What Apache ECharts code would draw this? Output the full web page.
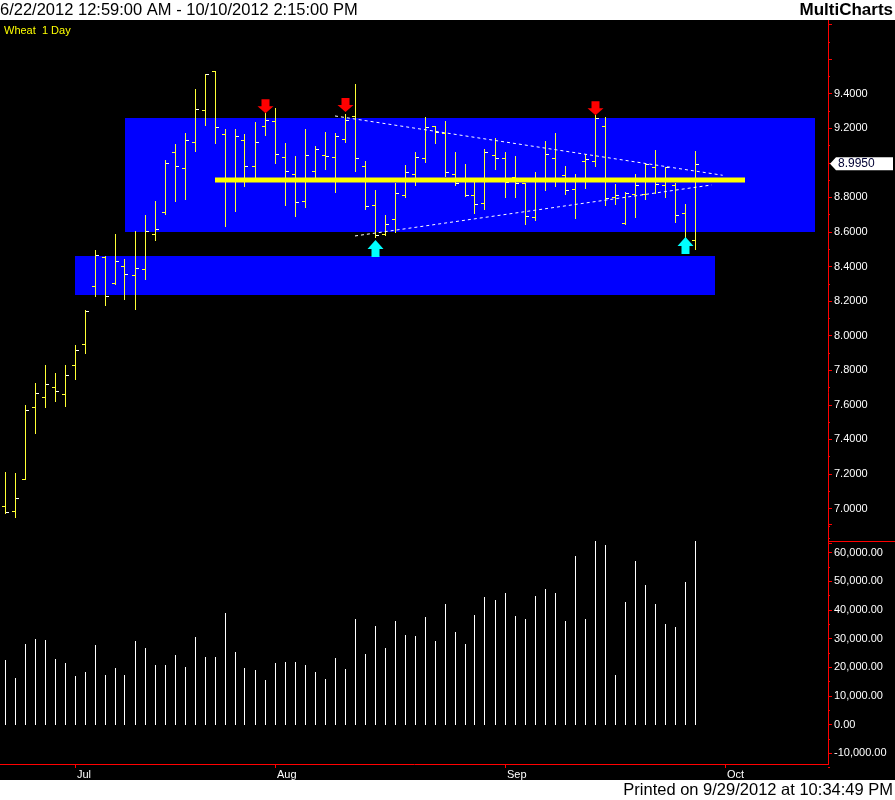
<!DOCTYPE html>
<html><head><meta charset="utf-8">
<script src="https://cdn.jsdelivr.net/npm/echarts@6/dist/echarts.min.js"></script>
<style>html,body{margin:0;padding:0;background:#000;}#c{width:895px;height:800px;}</style>
</head><body><div id="c"></div>
<script>
// ---- data ----
const opens  = [7.014,6.985,7.17,7.586,7.644,7.702,7.661,7.829,7.951,8.286,8.454,8.303,8.402,8.35,8.384,8.587,8.714,9.061,8.969,9.119,9.304,9.53,9.165,8.9,9.13,8.98,9.211,9.24,9.032,8.934,8.778,8.951,9.044,9.032,9.136,9.269,8.98,8.755,8.587,8.674,8.812,8.934,9.026,9.211,9.171,8.934,8.9,8.812,8.766,9.044,9.026,8.916,8.882,8.685,8.9,9.026,8.93,8.847,9.009,9.009,9.211,8.801,8.65,8.818,8.818,8.974,8.874,8.874,8.708,8.552];
const highs  = [7.21,7.204,7.598,7.725,7.829,7.783,7.829,7.945,8.147,8.496,8.461,8.589,8.442,8.606,8.698,8.779,9.017,9.109,9.173,9.427,9.514,9.53,9.196,9.196,9.167,9.236,9.29,9.317,9.115,9.04,9.196,9.098,9.178,9.173,9.28,9.456,9.011,8.843,8.698,8.882,8.988,9.063,9.267,9.213,9.242,9.063,8.993,8.888,9.08,9.144,9.063,9.04,8.882,8.945,9.126,9.173,8.98,8.936,9.05,9.275,9.263,8.876,8.83,8.934,8.992,9.074,8.974,8.882,8.76,9.069];
const lows   = [6.973,6.954,7.17,7.439,7.59,7.624,7.596,7.752,7.902,8.232,8.18,8.298,8.214,8.157,8.33,8.554,8.704,8.781,8.793,9.07,9.221,9.117,8.637,8.723,8.868,8.92,9.163,9.001,8.758,8.694,8.746,8.911,8.966,8.833,9.122,8.955,8.735,8.573,8.583,8.602,8.804,8.874,9.007,9.113,8.926,8.87,8.807,8.712,8.735,8.966,8.804,8.804,8.648,8.671,8.845,8.868,8.822,8.683,8.856,8.984,8.758,8.764,8.648,8.689,8.793,8.824,8.804,8.66,8.525,8.504];
const closes = [6.979,7.06,7.569,7.667,7.719,7.679,7.771,7.916,8.141,8.465,8.228,8.431,8.355,8.39,8.606,8.616,8.997,8.98,9.13,9.31,9.512,9.206,8.9,9.154,8.98,9.119,9.246,9.05,8.951,8.772,9.044,9.078,9.038,9.154,9.25,9.026,8.749,8.583,8.645,8.824,8.945,9.032,9.206,9.177,8.945,8.882,8.812,8.76,9.061,9.026,8.888,8.882,8.691,8.911,9.05,8.9,8.841,8.905,9.02,9.258,8.795,8.812,8.824,8.87,8.992,8.88,8.974,8.697,8.53,8.995];
const volumes = [22640,16370,28210,29950,29600,22990,21590,17070,18460,27860,17410,19850,17410,29260,26820,20900,20900,24380,20200,30650,23680,23680,39010,25430,19850,19160,15670,21590,21940,21940,20900,18460,16020,23340,19500,36920,24730,34480,26820,36220,
                 31350,31000,37620,29260,42140,32390,28210,38310,44580,43540,45980,37960,36920,44930,47370,45980,36220,58860,36920,64000,62690,17410,42840,57120,48760,42140,35180,34130,49810,64000];
const slotCount = 83;                       // bar slots on the time axis (incl. empty future slots)
const monthIdx = [7, 27, 50, 72];
const monthLabels = ['Jul', 'Aug', 'Sep', 'Oct'];
// zones: [fromSlot, toSlot, topPrice, bottomPrice]
const zones = [[12, 81, 9.259, 8.600], [7, 71, 8.461, 8.236]];
// horizontal support line: [fromSlot, toSlot, price]
const supportLine = [[21, 74, 8.90]];
// trend lines: [fromSlot, fromPrice, toSlot, toPrice]
const trendLines = [[33, 9.271, 71.77, 8.928], [35, 8.577, 70.67, 8.872]];
// arrows: [slot, tipPrice]
const downArrows = [[26, 9.287], [34, 9.294], [59, 9.275]];
const upArrows = [[37, 8.554], [68, 8.571]];
const headerLeft = '6/22/2012 12:59:00 AM - 10/10/2012 2:15:00 PM';
const headerRight = 'MultiCharts';
const footerText = 'Printed on 9/29/2012 at 10:34:49 PM';
const symbolText = 'Wheat  1 Day';

// ---- build ----
const categories = [];
for (let i = 0; i < slotCount; i++) categories.push(String(i));
const ohlcData = opens.map((o, i) => [i, o, highs[i], lows[i], closes[i]]);
const volData = volumes.map((v, i) => [i, v]);

const FONT = '"Liberation Sans", Arial, sans-serif';
const RED = '#ff0000';
const BAR = '#ffff33';

function crisp(v) { return Math.round(v) + 0.5; }

function renderOHLC(params, api) {
  const i = api.value(0);
  const pO = api.coord([i, api.value(1)]);
  const pH = api.coord([i, api.value(2)]);
  const pL = api.coord([i, api.value(3)]);
  const pC = api.coord([i, api.value(4)]);
  const x = crisp(pH[0] - 0.5);
  const yO = crisp(pO[1]), yC = crisp(pC[1]);
  return { type: 'group', children: [
    { type: 'line', shape: { x1: x, y1: Math.round(pH[1]), x2: x, y2: Math.round(pL[1]) + 1 }, style: { stroke: BAR, lineWidth: 1 } },
    { type: 'line', shape: { x1: x - 3.5, y1: yO, x2: x - 0.5, y2: yO }, style: { stroke: BAR, lineWidth: 1 } },
    { type: 'line', shape: { x1: x + 0.5, y1: yC, x2: x + 3.5, y2: yC }, style: { stroke: '#ffffff', lineWidth: 1 } }
  ]};
}
function renderVol(params, api) {
  const i = api.value(0);
  const p0 = api.coord([i, 0]);
  const p1 = api.coord([i, api.value(1)]);
  const x = crisp(p0[0] - 0.5);
  return { type: 'line', shape: { x1: x, y1: Math.round(p0[1]), x2: x, y2: Math.round(p1[1]) }, style: { stroke: '#ffffff', lineWidth: 1 } };
}
function renderZone(params, api) {
  const a = api.coord([api.value(0), api.value(2)]);
  const b = api.coord([api.value(1), api.value(3)]);
  return { type: 'rect', shape: { x: a[0], y: a[1], width: b[0] - a[0], height: b[1] - a[1] }, style: { fill: '#0000ff' } };
}
function renderSupport(params, api) {
  const a = api.coord([api.value(0), api.value(2)]);
  const b = api.coord([api.value(1), api.value(2)]);
  return { type: 'rect', shape: { x: a[0], y: a[1] - 2.5, width: b[0] - a[0], height: 5 }, style: { fill: '#ffff00' } };
}
function fracCoord(api, xv, yv) {
  const f = Math.floor(xv);
  const p = api.coord([f, yv]);
  const bw = api.size([1, 0])[0];
  return [p[0] + (xv - f) * bw, p[1]];
}
function renderTrend(params, api) {
  const a = fracCoord(api, api.value(0), api.value(1));
  const b = fracCoord(api, api.value(2), api.value(3));
  return { type: 'line', shape: { x1: a[0], y1: a[1], x2: b[0], y2: b[1] }, style: { stroke: '#ffffff', lineWidth: 1, lineDash: [3, 3] } };
}
function renderDown(params, api) {
  const t = api.coord([api.value(0), api.value(1)]);
  const cx = Math.round(t[0]) + 0.5, ty = t[1];
  return { type: 'polygon', shape: { points: [[cx - 4, ty - 14], [cx + 4, ty - 14], [cx + 4, ty - 7], [cx + 8, ty - 7], [cx, ty], [cx - 8, ty - 7], [cx - 4, ty - 7]] }, style: { fill: '#ff0000' } };
}
function renderUp(params, api) {
  const t = api.coord([api.value(0), api.value(1)]);
  const cx = Math.round(t[0]) + 0.5, ty = t[1];
  return { type: 'polygon', shape: { points: [[cx, ty], [cx + 8, ty + 9], [cx + 4, ty + 9], [cx + 4, ty + 17], [cx - 4, ty + 17], [cx - 4, ty + 9], [cx - 8, ty + 9]] }, style: { fill: '#00ffff' } };
}
function fmtVol(v) {
  if (v < -10000.5 || v > 60000.5) return '';
  const s = Math.abs(v).toFixed(2).split('.');
  return (v < 0 ? '-' : '') + s[0].replace(/\B(?=(\d{3})+(?!\d))/g, ',') + '.' + s[1];
}
function fmtPrice(v) {
  if (v < 6.95 || v > 9.45) return '';
  return v.toFixed(4);
}

const chart = echarts.init(document.getElementById('c'), null, { renderer: 'canvas' });
const baseGraphics = [
  { type: 'line', z: 50, shape: { x1: 828.5, y1: 20, x2: 828.5, y2: 764.5 }, style: { stroke: RED, lineWidth: 1 } },
  { type: 'line', z: 50, shape: { x1: 828, y1: 541.5, x2: 895, y2: 541.5 }, style: { stroke: RED, lineWidth: 1 } },
  { type: 'line', z: 50, shape: { x1: 0, y1: 764.5, x2: 829, y2: 764.5 }, style: { stroke: RED, lineWidth: 1 } },
  { type: 'rect', z: 100, shape: { x: 0, y: 0, width: 895, height: 20 }, style: { fill: '#ffffff' } },
  { type: 'rect', z: 100, shape: { x: 0, y: 780, width: 895, height: 20 }, style: { fill: '#ffffff' } },
  { type: 'text', z: 101, style: { text: headerLeft, x: 0, y: 10.5, fill: '#000000', fontSize: 16.5, fontFamily: FONT, verticalAlign: 'middle', align: 'left' } },
  { type: 'text', z: 101, style: { text: headerRight, x: 893, y: 10.5, fill: '#000000', fontSize: 17, fontWeight: 'bold', fontFamily: FONT, verticalAlign: 'middle', align: 'right' } },
  { type: 'text', z: 101, style: { text: footerText, x: 893, y: 790.5, fill: '#000000', fontSize: 16.5, fontFamily: FONT, verticalAlign: 'middle', align: 'right' } },
  { type: 'text', z: 101, style: { text: symbolText, x: 4, y: 31, fill: '#ffff00', fontSize: 11, fontFamily: FONT, verticalAlign: 'middle', align: 'left' } }
];

const option = {
  backgroundColor: '#000000',
  animation: false,
  grid: [
    { left: 0, width: 830, top: 24.5, height: 518.7 },
    { left: 0, width: 830, top: 524, height: 258 }
  ],
  xAxis: [
    { type: 'category', gridIndex: 0, data: categories, boundaryGap: true, show: false },
    { type: 'category', gridIndex: 1, data: categories, boundaryGap: true, offset: -18, position: 'bottom',
      axisLine: { show: false, onZero: false },
      axisTick: { show: true, alignWithLabel: true, length: 4, interval: (idx) => monthIdx.indexOf(idx) >= 0, lineStyle: { color: RED } },
      axisLabel: { show: true, interval: (idx) => monthIdx.indexOf(idx) >= 0, formatter: (val, idx) => { const k = monthIdx.indexOf(Number(val)); return k >= 0 ? monthLabels[k] : ''; },
        align: 'left', color: '#ffffff', fontSize: 11, fontFamily: FONT, margin: 5, padding: [0, 0, 0, 2] },
      splitLine: { show: false } }
  ],
  yAxis: [
    { type: 'value', gridIndex: 0, position: 'right', offset: -2, min: 6.8, max: 9.8, interval: 0.2, scale: true,
      axisLine: { show: false },
      axisTick: { show: true, length: 4, lineStyle: { color: RED } },
      minorTick: { show: true, splitNumber: 2, length: 2, lineStyle: { color: RED } },
      axisLabel: { show: true, formatter: fmtPrice, color: '#ffffff', fontSize: 11, fontFamily: FONT, margin: 6, showMinLabel: true, showMaxLabel: true },
      splitLine: { show: false } },
    { type: 'value', gridIndex: 1, position: 'right', offset: -2, min: -20000, max: 70000, interval: 10000,
      axisLine: { show: false },
      axisTick: { show: true, length: 4, lineStyle: { color: RED } },
      minorTick: { show: true, splitNumber: 2, length: 2, lineStyle: { color: RED } },
      axisLabel: { show: true, formatter: fmtVol, color: '#ffffff', fontSize: 11, fontFamily: FONT, margin: 6 },
      splitLine: { show: false } }
  ],
  series: [
    { type: 'custom', name: 'zones', xAxisIndex: 0, yAxisIndex: 0, z: 1, renderItem: renderZone, data: zones, encode: { x: [0, 1], y: [2, 3] }, silent: true },
    { type: 'custom', name: 'Wheat', xAxisIndex: 0, yAxisIndex: 0, z: 2, renderItem: renderOHLC, data: ohlcData, encode: { x: 0, y: [1, 2, 3, 4] } },
    { type: 'custom', name: 'support', xAxisIndex: 0, yAxisIndex: 0, z: 3, renderItem: renderSupport, data: supportLine, encode: { x: [0, 1], y: 2 }, silent: true },
    { type: 'custom', name: 'trend', xAxisIndex: 0, yAxisIndex: 0, z: 4, renderItem: renderTrend, data: trendLines, encode: { x: 0, y: 1 }, silent: true },
    { type: 'custom', name: 'down', xAxisIndex: 0, yAxisIndex: 0, z: 5, renderItem: renderDown, data: downArrows, encode: { x: 0, y: 1 }, silent: true },
    { type: 'custom', name: 'up', xAxisIndex: 0, yAxisIndex: 0, z: 5, renderItem: renderUp, data: upArrows, encode: { x: 0, y: 1 }, silent: true },
    { type: 'custom', name: 'Volume', xAxisIndex: 1, yAxisIndex: 1, z: 2, renderItem: renderVol, data: volData, encode: { x: 0, y: 1 } }
  ],
  graphic: baseGraphics
};
chart.setOption(option);

// last-price marker on the price axis
const lastClose = closes[closes.length - 1];
const my = chart.convertToPixel({ yAxisIndex: 0 }, lastClose);
chart.setOption({ graphic: baseGraphics.concat([
  { type: 'polygon', z: 60, shape: { points: [[830, my], [836, my - 6.5], [893, my - 6.5], [893, my + 6.5], [836, my + 6.5]] }, style: { fill: '#ffffff' } },
  { type: 'text', z: 61, style: { text: lastClose.toFixed(4), x: 838, y: my + 0.5, fill: '#000033', fontSize: 12, fontFamily: FONT, verticalAlign: 'middle', align: 'left' } }
]) });
</script>
</body></html>
